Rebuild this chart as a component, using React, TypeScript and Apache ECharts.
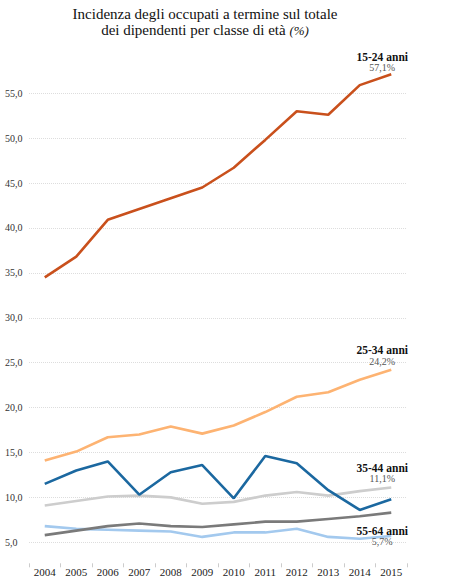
import React, { useEffect, useRef } from "react";
import * as echarts from "echarts";

const years = ["2004", "2005", "2006", "2007", "2008", "2009", "2010", "2011", "2012", "2013", "2014", "2015"];
const s1524 = [34.5, 36.8, 40.9, 42.1, 43.3, 44.5, 46.7, 49.8, 53.0, 52.6, 55.9, 57.1];
const s2534 = [14.1, 15.1, 16.7, 17.0, 17.9, 17.1, 18.0, 19.5, 21.2, 21.7, 23.1, 24.2];
const sBlue = [11.5, 13.0, 14.0, 10.3, 12.8, 13.6, 9.9, 14.6, 13.8, 10.8, 8.6, 9.8];
const s3544 = [9.1, 9.6, 10.1, 10.2, 10.0, 9.3, 9.5, 10.2, 10.6, 10.2, 10.7, 11.1];
const sDarkGray = [5.8, 6.3, 6.8, 7.1, 6.8, 6.7, 7.0, 7.3, 7.3, 7.6, 7.9, 8.3];
const s5564 = [6.8, 6.5, 6.4, 6.3, 6.2, 5.6, 6.1, 6.1, 6.5, 5.6, 5.4, 5.7];

const SERIF = "Liberation Serif";

function fmt(v: number) {
  return v.toFixed(1).replace(".", ",");
}

function endLabel(name: string, data: number[], offsetY: number) {
  return {
    show: true,
    distance: 0,
    offset: [-9, offsetY],
    align: "center",
    verticalAlign: "bottom",
    formatter: () => `{b|${name}}\n{v|${fmt(data[data.length - 1])}%}`,
    rich: {
      b: { fontFamily: SERIF, fontSize: 11.5, fontWeight: "bold", color: "#111", lineHeight: 11, align: "center" },
      v: { fontFamily: SERIF, fontSize: 10, color: "#555", lineHeight: 11, align: "center" },
    },
  };
}

function line(name: string, data: number[], color: string, withLabel: boolean, offsetY = 0) {
  return {
    name,
    type: "line",
    data,
    symbol: "none",
    showSymbol: false,
    lineStyle: { color, width: 2.6 },
    itemStyle: { color },
    endLabel: withLabel ? endLabel(name, data, offsetY) : { show: false },
    emphasis: { disabled: true },
  };
}

export default function App() {
  const ref = useRef<HTMLDivElement>(null);
  useEffect(() => {
    if (!ref.current) return;
    const chart = echarts.init(ref.current, undefined, { renderer: "svg" });
    chart.setOption({
      animation: false,
      backgroundColor: "#fff",
      graphic: [
        {
          type: "text",
          x: 205,
          y: 6,
          style: {
            text: "Incidenza degli occupati a termine sul totale\ndei dipendenti per classe di età {i|(%)}",
            align: "center",
            fontFamily: SERIF,
            fontSize: 15,
            lineHeight: 16,
            fill: "#111",
            rich: {
              i: { fontFamily: SERIF, fontSize: 13, fontStyle: "italic", fill: "#111" },
            },
          },
        },
      ],
      grid: { left: 29, right: 53, top: 48.3, bottom: 38.7 },
      xAxis: {
        type: "category",
        data: years,
        boundaryGap: true,
        offset: 21,
        axisLine: { show: false },
        axisTick: { show: true, length: 4, lineStyle: { color: "#ccc" } },
        axisLabel: { fontFamily: SERIF, fontSize: 11, color: "#222", margin: 3 },
        splitLine: { show: false },
      },
      yAxis: {
        type: "value",
        min: 5,
        max: 60,
        interval: 5,
        axisLine: { show: false },
        axisTick: { show: false },
        axisLabel: {
          fontFamily: SERIF,
          fontSize: 10,
          color: "#333",
          align: "left",
          margin: 24,
          showMaxLabel: false,
          formatter: (v: number) => fmt(v),
        },
        splitLine: { show: true, showMaxLine: false, lineStyle: { color: "#ddd", type: "dotted" } },
      },
      series: [
        line("55-64 anni", s5564, "#a3c9ee", true, 11.2),
        line("serie grigio scuro", sDarkGray, "#7a7a7a", false),
        line("35-44 anni", s3544, "#cdcdcd", true, -3.5),
        line("serie blu", sBlue, "#1b68a0", false),
        line("25-34 anni", s2534, "#fdb372", true, -3.3),
        line("15-24 anni", s1524, "#c9501c", true, -0.9),
      ],
    });
    return () => chart.dispose();
  }, []);
  return <div ref={ref} style={{ width: 460, height: 581, position: "absolute", left: 0, top: 0 }} />;
}
